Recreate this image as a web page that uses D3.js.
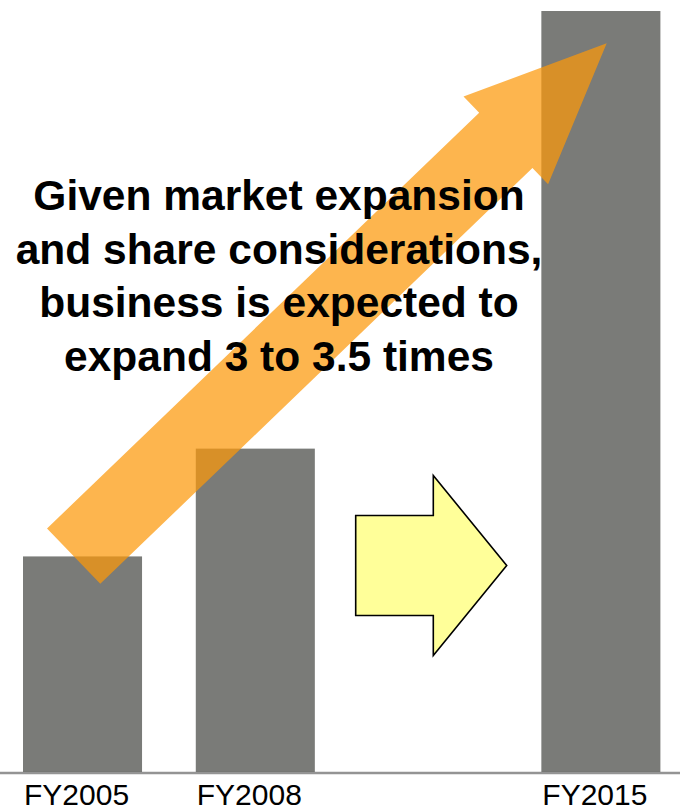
<!DOCTYPE html>
<html>
<head>
<meta charset="utf-8">
<script src="https://cdn.jsdelivr.net/npm/d3@7"></script>
<style>
  html, body { margin: 0; padding: 0; background: #ffffff; }
  svg { display: block; }
</style>
</head>
<body>
<svg id="chart" width="680" height="810"></svg>
<script>
// Fiscal years shown on the axis; the empty slot leaves room for the transition arrow.
const categories = ["FY2005", "FY2008", "", "FY2015"];
const barYears = ["FY2005", "FY2008", "FY2015"];
// Business size index (FY2005 = 100)
const values = [100, 150, 353];
const messageLines = [
  "Given market expansion",
  "and share considerations,",
  "business is expected to",
  "expand 3 to 3.5 times"
];

const W = 680, H = 810;
const baseY = 772;
const svg = d3.select("#chart");

const x = d3.scaleBand()
  .domain(categories)
  .range([23, 660.4])
  .paddingInner(0.311)
  .paddingOuter(0);

const y = d3.scaleLinear()
  .domain([0, 353])
  .range([baseY, 11]);

const data = barYears.map((c, i) => ({ cat: c, v: values[i] }));

// Bars
svg.append("g")
  .selectAll("rect")
  .data(data)
  .join("rect")
  .attr("x", d => x(d.cat))
  .attr("y", d => y(d.v))
  .attr("width", x.bandwidth())
  .attr("height", d => baseY - y(d.v))
  .attr("fill", "#7a7b78");

// Baseline across the full width
svg.append("line")
  .attr("x1", 0).attr("x2", W)
  .attr("y1", baseY + 1).attr("y2", baseY + 1)
  .attr("stroke", "#666")
  .attr("stroke-opacity", 0.7)
  .attr("stroke-width", 2.5);

// Category labels
const axis = svg.append("g")
  .attr("transform", `translate(0,${baseY})`)
  .call(d3.axisBottom(x).tickValues(barYears).tickSize(0).tickPadding(0));
axis.select(".domain").remove();
axis.selectAll("text")
  .attr("y", 33)
  .attr("dy", 0)
  .attr("dx", -6)
  .attr("fill", "#000")
  .style("font-family", "'Liberation Sans', Arial, sans-serif")
  .style("font-size", "30px");

// Block arrow pointing right, in the empty slot between FY2008 and FY2015
(function () {
  const x0 = 355.7, tipX = 506.7, cy = 565.5;
  const shaftH = 50, headH = 90, headLen = 73.4;
  const nx = tipX - headLen;
  const pts = [
    [x0, cy - shaftH], [nx, cy - shaftH], [nx, cy - headH], [tipX, cy],
    [nx, cy + headH], [nx, cy + shaftH], [x0, cy + shaftH]
  ];
  svg.append("path")
    .attr("d", d3.line()(pts) + "Z")
    .attr("fill", "#ffff99")
    .attr("stroke", "#000")
    .attr("stroke-width", 1.6)
    .attr("stroke-linejoin", "miter");
})();

// Rising growth arrow, semi-transparent over the bars
(function () {
  const tail = [73.65, 556.15], tip = [606.7, 43.3];
  const dx = tip[0] - tail[0], dy = tip[1] - tail[1];
  const L = Math.hypot(dx, dy);
  const ang = Math.atan2(dy, dx) * 180 / Math.PI;
  const w = 38.4, hw = 61, hl = 140;
  const pts = [
    [0, -w], [L - hl, -w], [L - hl, -hw], [L, 0],
    [L - hl, hw], [L - hl, w], [0, w]
  ];
  svg.append("path")
    .attr("d", d3.line()(pts) + "Z")
    .attr("transform", `translate(${tail[0]},${tail[1]}) rotate(${ang})`)
    .attr("fill", "rgb(252,152,10)")
    .attr("fill-opacity", 0.72);
})();

// Message text
svg.append("g")
  .selectAll("text")
  .data(messageLines)
  .join("text")
  .attr("x", 279)
  .attr("y", (d, i) => 210 + i * 53.7)
  .attr("text-anchor", "middle")
  .attr("fill", "#000")
  .style("font-family", "'Liberation Sans', Arial, sans-serif")
  .style("font-weight", "bold")
  .style("font-size", "42.5px")
  .text(d => d);
</script>
</body>
</html>
